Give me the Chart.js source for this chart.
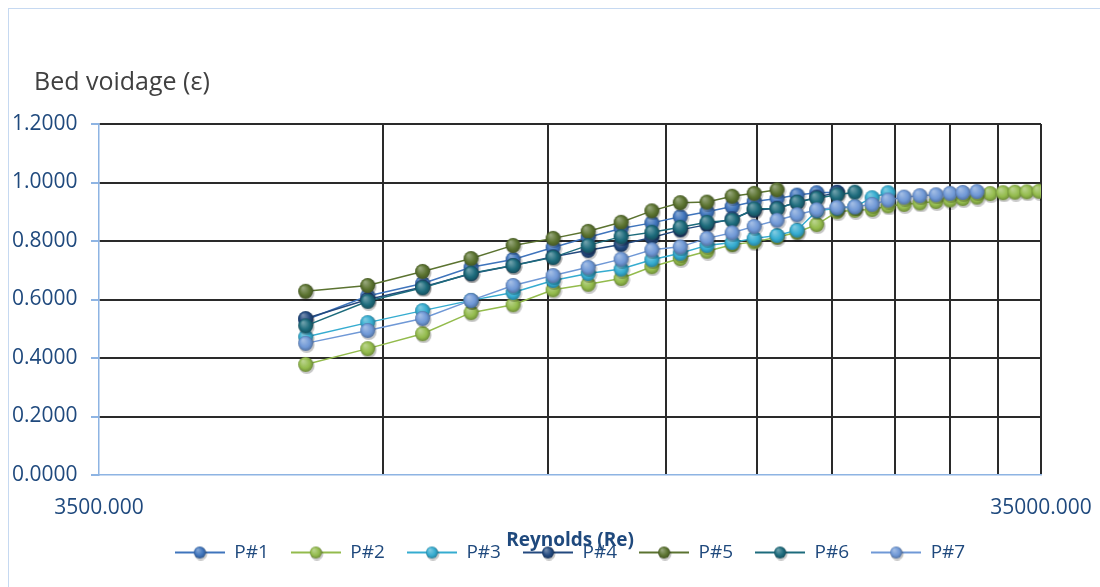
<!DOCTYPE html>
<html>
<head>
<meta charset="utf-8">
<script src="https://cdn.jsdelivr.net/npm/chart.js@4.4.1/dist/chart.umd.min.js"></script>
<style>
html, body { margin: 0; padding: 0; background: #fff; overflow: hidden; }
#frame { position: absolute; left: 8px; top: 8px; width: 1200px; height: 700px; border: 1px solid #c6d9f1; }
#grafik { position: absolute; left: 0; top: 0; }
</style>
</head>
<body>
<div id="frame"></div>
<canvas id="grafik" width="1100" height="587"></canvas>
<script>
const reynolds = [5800, 6750, 7720, 8690, 9630, 10620, 11570, 12540, 13520, 14490, 15470,
    16450, 17360, 18360, 19280, 20230, 21260, 22210, 23160, 24080, 25040, 26030, 27080,
    28020, 28910, 29930, 30910, 31900, 32840, 33810, 34830];

// bed voidage per particle
const p1 = [0.530, 0.612, 0.655, 0.710, 0.737, 0.778, 0.813, 0.843, 0.862, 0.883, 0.900, 0.918, 0.935, 0.945, 0.957, 0.965, 0.967];
const p2 = [0.378, 0.432, 0.483, 0.555, 0.582, 0.633, 0.652, 0.672, 0.712, 0.740, 0.765, 0.787, 0.797, 0.813, 0.830, 0.856,
    0.900, 0.905, 0.908, 0.920, 0.925, 0.930, 0.935, 0.940, 0.945, 0.950, 0.962, 0.965, 0.967, 0.968, 0.970];
const p3 = [0.472, 0.521, 0.562, 0.597, 0.624, 0.665, 0.689, 0.704, 0.736, 0.758, 0.785, 0.795, 0.809, 0.819, 0.837, 0.903, 0.912, 0.917, 0.948, 0.965];
const p4 = [0.535, 0.600, 0.643, 0.688, 0.716, 0.746, 0.768, 0.788, 0.812, 0.838, 0.856, 0.876, 0.905, 0.912, 0.932, 0.950, 0.966];
const p5 = [0.628, 0.648, 0.696, 0.740, 0.785, 0.809, 0.833, 0.864, 0.903, 0.931, 0.933, 0.953, 0.963, 0.975];
const p6 = [0.510, 0.594, 0.640, 0.690, 0.716, 0.744, 0.785, 0.815, 0.830, 0.847, 0.864, 0.871, 0.910, 0.910, 0.933, 0.946, 0.958, 0.967];
const p7 = [0.450, 0.494, 0.535, 0.597, 0.648, 0.682, 0.710, 0.738, 0.770, 0.780, 0.809, 0.828, 0.850, 0.871, 0.890, 0.907,
    0.915, 0.917, 0.925, 0.940, 0.950, 0.955, 0.958, 0.963, 0.966, 0.969];

const seriesNames = ['P#1', 'P#2', 'P#3', 'P#4', 'P#5', 'P#6', 'P#7'];
const seriesValues = [p1, p2, p3, p4, p5, p6, p7];
const seriesColors = ['#3f74bc', '#93bb4c', '#35acd0', '#23497e', '#5b7330', '#1d6b7c', '#6f98d6'];

// axis ticks
const xGridValues = [3500, 7000, 10500, 14000, 17500, 21000, 24500, 28000, 31500, 35000];
const xLabelValues = [3500, 35000];
const yTickValues = [0, 0.2, 0.4, 0.6, 0.8, 1.0, 1.2];

const FONT = 'Open Sans';
const TEXT_BLUE = '#1f497d';

function shade(hex, amt) {
    const n = parseInt(hex.slice(1), 16);
    let r = n >> 16, g = (n >> 8) & 255, b = n & 255;
    const mix = amt >= 0 ? 255 : 0;
    const a = Math.abs(amt);
    r = Math.round(r + (mix - r) * a);
    g = Math.round(g + (mix - g) * a);
    b = Math.round(b + (mix - b) * a);
    return 'rgb(' + r + ',' + g + ',' + b + ')';
}

// bola kecil dengan sedikit efek 3D
function drawBall(g, cx, cy, r, color) {
    g.fillStyle = 'rgba(0,0,0,0.22)';
    g.beginPath(); g.arc(cx + 1, cy + 1.5, r + 0.5, 0, Math.PI * 2); g.fill();
    const grad = g.createRadialGradient(cx - r * 0.35, cy - r * 0.45, r * 0.1, cx, cy, r);
    grad.addColorStop(0, shade(color, 0.35));
    grad.addColorStop(0.65, color);
    grad.addColorStop(1, shade(color, -0.25));
    g.fillStyle = grad;
    g.beginPath(); g.arc(cx, cy, r, 0, Math.PI * 2); g.fill();
}

function makeMarker(color) {
    const c = document.createElement('canvas');
    c.width = 19; c.height = 19;
    drawBall(c.getContext('2d'), 9.5, 9.5, 7.5, color);
    return c;
}

function makeLegendIcon(color) {
    const c = document.createElement('canvas');
    c.width = 50; c.height = 16;
    const g = c.getContext('2d');
    g.strokeStyle = color;
    g.lineWidth = 2;
    g.beginPath(); g.moveTo(0, 8); g.lineTo(50, 8); g.stroke();
    drawBall(g, 25, 8, 6, color);
    return c;
}

const legendIcons = seriesColors.map(makeLegendIcon);

const datasets = seriesNames.map((name, i) => ({
    label: name,
    data: seriesValues[i].map((v, k) => ({ x: reynolds[k], y: v })),
    borderColor: seriesColors[i],
    backgroundColor: seriesColors[i],
    borderWidth: 1.5,
    pointStyle: makeMarker(seriesColors[i]),
    pointRadius: 7,
    tension: 0,
    order: seriesNames.length - i
}));

// judul sumbu Y di kiri atas
const yTitlePlugin = {
    id: 'yTitle',
    afterDraw(chart) {
        const ctx = chart.ctx;
        ctx.save();
        ctx.font = '25px "' + FONT + '"';
        ctx.fillStyle = '#404040';
        ctx.textBaseline = 'alphabetic';
        ctx.fillText('Bed voidage (\u03b5)', 34, 90);
        ctx.restore();
    }
};

new Chart(document.getElementById('grafik'), {
    type: 'line',
    data: { datasets },
    plugins: [yTitlePlugin],
    options: {
        responsive: false,
        animation: false,
        layout: { padding: { left: 12, right: 59, top: 124, bottom: 15 } },
        scales: {
            x: {
                type: 'logarithmic',
                min: 3500,
                max: 35000,
                afterBuildTicks: s => { s.ticks = xGridValues.map(v => ({ value: v })); },
                afterFit: s => { s.height = 46; s.paddingLeft = 0; s.paddingRight = 0; },
                ticks: {
                    autoSkip: false,
                    maxRotation: 0,
                    padding: 20,
                    color: TEXT_BLUE,
                    font: { family: FONT, size: 21 },
                    callback: v => xLabelValues.includes(v) ? v.toFixed(3) : ''
                },
                grid: {
                    drawTicks: false,
                    lineWidth: 2,
                    color: c => c.index === 0 ? 'rgba(0,0,0,0)' : '#2a2a2a'
                },
                border: { color: '#8eb4e3', width: 1.5 },
                title: {
                    display: true,
                    text: 'Reynolds (Re)',
                    color: TEXT_BLUE,
                    font: { family: FONT, size: 19, weight: 'bold' },
                    padding: { top: 0, bottom: -31 }
                }
            },
            y: {
                min: 0,
                max: 1.2,
                afterBuildTicks: s => { s.ticks = yTickValues.map(v => ({ value: v })); },
                afterFit: s => { s.width = 87; },
                ticks: {
                    crossAlign: 'far',
                    color: TEXT_BLUE,
                    font: { family: FONT, size: 21 },
                    callback: v => v.toFixed(4)
                },
                grid: {
                    tickLength: 8,
                    tickColor: '#8eb4e3',
                    lineWidth: 2,
                    color: c => c.index === 0 ? 'rgba(0,0,0,0)' : '#2a2a2a'
                },
                border: { color: '#8eb4e3', width: 1.5 }
            }
        },
        plugins: {
            tooltip: { enabled: false },
            legend: {
                position: 'bottom',
                fullSize: false,
                labels: {
                    usePointStyle: true,
                    pointStyleWidth: 50,
                    padding: 22,
                    color: TEXT_BLUE,
                    font: { family: FONT, size: 19 },
                    generateLabels(chart) {
                        const items = Chart.defaults.plugins.legend.labels.generateLabels(chart);
                        items.sort((a, b) => a.datasetIndex - b.datasetIndex);
                        items.forEach(it => { it.pointStyle = legendIcons[it.datasetIndex]; });
                        return items;
                    }
                }
            }
        }
    }
});
</script>
</body>
</html>
